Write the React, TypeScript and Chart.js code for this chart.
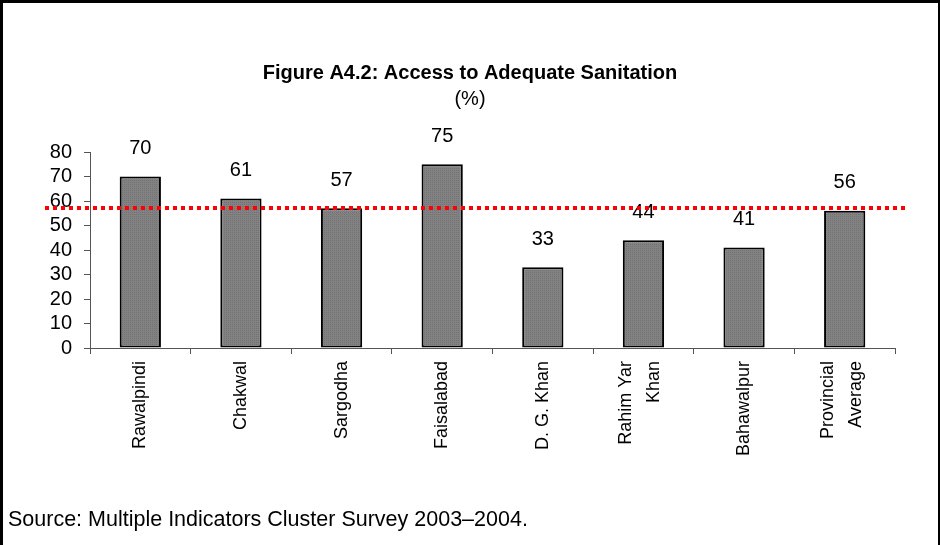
import React, { useEffect, useRef } from "react";
import { Chart, registerables } from "chart.js";

Chart.register(...registerables);

const districts: string[][] = [
  ["Rawalpindi"],
  ["Chakwal"],
  ["Sargodha"],
  ["Faisalabad"],
  ["D. G. Khan"],
  ["Rahim Yar", "Khan"],
  ["Bahawalpur"],
  ["Provincial", "Average"],
];
const sanitationPct: number[] = [70, 61, 57, 75, 33, 44, 41, 56];
const referenceLevel = 57;
const yTicks = { min: 0, max: 80, step: 10 };

const titleText = "Figure A4.2: Access to Adequate Sanitation";
const subtitleText = "(%)";
const sourceText = "Source: Multiple Indicators Cluster Survey 2003–2004.";

const FONT = "Arial, 'Liberation Sans', sans-serif";

// fine dotted grey fill for the bars
function makeBarPattern(): CanvasPattern | string {
  const c = document.createElement("canvas");
  c.width = 2;
  c.height = 2;
  const g = c.getContext("2d");
  if (!g) return "#7d7d7d";
  g.fillStyle = "#828282";
  g.fillRect(0, 0, 2, 2);
  g.fillStyle = "#727272";
  g.fillRect(0, 0, 1, 1);
  const p = g.createPattern(c, "repeat");
  return p || "#7d7d7d";
}

const decorations = {
  id: "decorations",
  afterDraw(chart: any) {
    const { ctx, scales } = chart;
    const x = scales.x;
    const y = scales.y;
    ctx.save();

    // frame (left, top, right)
    ctx.strokeStyle = "#000";
    ctx.lineWidth = 3;
    ctx.beginPath();
    ctx.moveTo(1.5, 545);
    ctx.lineTo(1.5, 1.5);
    ctx.lineTo(940, 1.5);
    ctx.stroke();
    ctx.lineWidth = 2;
    ctx.beginPath();
    ctx.moveTo(939, 0);
    ctx.lineTo(939, 545);
    ctx.stroke();

    // titles
    ctx.fillStyle = "#000";
    ctx.textAlign = "center";
    ctx.textBaseline = "middle";
    ctx.font = `bold 20px ${FONT}`;
    ctx.fillText(titleText, 470, 73);
    ctx.font = `20px ${FONT}`;
    ctx.fillText(subtitleText, 470, 99);

    // source note
    ctx.textAlign = "left";
    ctx.font = `21.5px ${FONT}`;
    ctx.fillText(sourceText, 8, 520);

    // category labels, rotated
    ctx.font = `18px ${FONT}`;
    const lh = 28;
    districts.forEach((lines, i) => {
      const cx = x.getPixelForValue(i);
      lines.forEach((line, j) => {
        const off = (j - (lines.length - 1) / 2) * lh - (lines.length > 1 ? 3 : 0);
        ctx.save();
        ctx.translate(cx + off, y.bottom + 13);
        ctx.rotate(-Math.PI / 2);
        ctx.textAlign = "right";
        ctx.textBaseline = "middle";
        ctx.fillText(line, 0, 0);
        ctx.restore();
      });
    });

    // value labels above bars
    ctx.textAlign = "center";
    ctx.textBaseline = "middle";
    ctx.font = `20px ${FONT}`;
    const meta = chart.getDatasetMeta(0);
    meta.data.forEach((bar: any, i: number) => {
      ctx.fillText(String(sanitationPct[i]), bar.x, bar.y - 28);
    });

    // red dotted reference line
    const ly = Math.round(y.getPixelForValue(referenceLevel));
    ctx.strokeStyle = "#ff0000";
    ctx.lineWidth = 4;
    ctx.setLineDash([4, 4]);
    ctx.beginPath();
    ctx.moveTo(45, ly);
    ctx.lineTo(906, ly);
    ctx.stroke();

    ctx.restore();
  },
};

export default function App() {
  const ref = useRef<HTMLCanvasElement | null>(null);

  useEffect(() => {
    if (!ref.current) return;
    const chart = new Chart(ref.current, {
      type: "bar",
      data: {
        labels: districts.map((l) => l.join(" ")),
        datasets: [
          {
            data: sanitationPct,
            backgroundColor: makeBarPattern() as any,
            borderColor: "#000",
            borderWidth: 2,
            borderSkipped: false,
            barPercentage: 0.41,
            categoryPercentage: 1,
          },
        ],
      },
      options: {
        animation: false,
        responsive: false,
        devicePixelRatio: 1,
        layout: { padding: { top: 152, right: 45, left: 0, bottom: 0 } },
        plugins: {
          legend: { display: false },
          tooltip: { enabled: false },
          title: { display: false },
        },
        scales: {
          x: {
            grid: {
              offset: true,
              drawOnChartArea: false,
              drawTicks: true,
              tickLength: 6,
              color: "#555",
            },
            border: { display: true, color: "#555", width: 1 },
            ticks: { display: false },
            afterFit: (s: any) => {
              s.height = 197;
            },
          },
          y: {
            min: yTicks.min,
            max: yTicks.max,
            grid: {
              drawOnChartArea: false,
              drawTicks: true,
              tickLength: 6,
              color: "#555",
            },
            border: { display: true, color: "#555", width: 1 },
            ticks: {
              stepSize: yTicks.step,
              autoSkip: false,
              padding: 12,
              color: "#000",
              font: { family: FONT, size: 20 },
            },
            afterFit: (s: any) => {
              s.width = 90;
            },
          },
        },
      },
      plugins: [decorations],
    });
    return () => chart.destroy();
  }, []);

  return (
    <div style={{ position: "fixed", left: 0, top: 0, width: 940, height: 545, background: "#fff" }}>
      <canvas ref={ref} width={940} height={545} style={{ display: "block" }} />
    </div>
  );
}
